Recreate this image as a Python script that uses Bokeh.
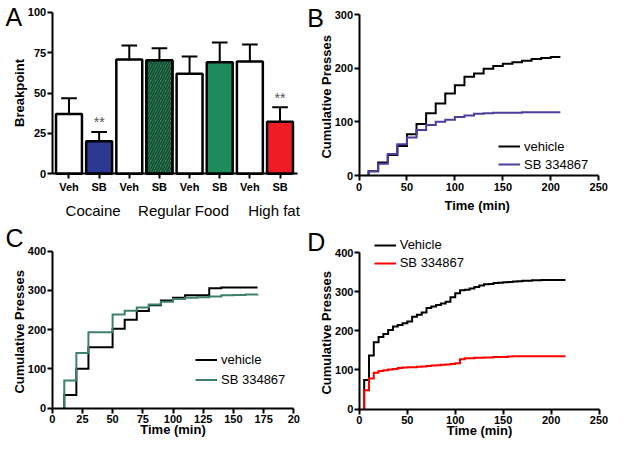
from bokeh.plotting import figure
from bokeh.layouts import gridplot
from bokeh.models import Label, Legend, LegendItem, FixedTicker, Range1d, ColumnDataSource
from bokeh.core.properties import value
from bokeh.embed import file_html
from bokeh.resources import INLINE

FONT = "Liberation Sans"

# ---------------- data ----------------
# Panel A: breakpoint (mean, SEM)
a_conditions = ["Veh", "SB", "Veh", "SB", "Veh", "SB", "Veh", "SB"]
a_breakpoint = [37.0, 20.2, 70.7, 70.3, 61.9, 69.1, 69.5, 32.2]
a_sem = [9.8, 5.6, 8.7, 7.4, 10.7, 12.1, 10.5, 9.0]
a_signif = ["", "**", "", "", "", "", "", "**"]
a_groups = ["Cocaine", "Regular Food", "High fat"]
a_group_members = [[0, 1], [2, 3, 4, 5], [6, 7]]

# Panel B: cumulative presses (cocaine)
b_time = [10, 20, 30, 40, 50, 60, 70, 80, 90, 100, 110, 120, 130, 140, 150,
          160, 170, 180, 190, 200, 210]
b_vehicle = [8, 24, 38, 55, 77, 96, 116, 134, 153, 168, 184, 190, 199, 204,
             208, 211, 214, 217, 219, 221, 221]
b_sb = [8, 22, 40, 58, 71, 85, 94, 100, 104, 109, 112, 115, 116, 117, 117,
        117, 118, 118, 118, 118, 118]

# Panel C: cumulative presses (regular food)
c_time = [10, 20, 30, 40, 50, 60, 70, 80, 90, 100, 110, 120, 130, 140, 150,
          160, 170]
c_vehicle = [33, 100, 155, 155, 202, 225, 247, 262, 274, 281, 287, 287, 305,
             307, 307, 307, 307]
c_sb = [70, 140, 193, 193, 238, 248, 256, 264, 271, 278, 281, 282, 284, 287,
        288, 289, 290]

# Panel D: cumulative presses (high fat)
d_time = [5, 10, 15, 20, 25, 30, 35, 40, 45, 50, 55, 60, 65, 70, 75, 80, 85,
          90, 95, 100, 105, 110, 115, 120, 125, 130, 135, 140, 145, 150, 155,
          160, 165, 170, 175, 180, 185, 190, 195, 200, 205, 210, 215]
d_vehicle = [74, 137, 171, 184, 192, 202, 211, 215, 219, 224, 236, 241, 247,
             258, 262, 266, 270, 274, 286, 296, 304, 305, 308, 312, 316, 319,
             320, 322, 323, 324, 325, 326, 327, 328, 328, 329, 329, 330, 330,
             330, 330, 330, 330]
d_sb = [48, 78, 93, 97, 99, 101, 102, 105, 106, 107, 107, 108, 109, 110, 111,
        112, 113, 114, 115, 117, 127, 130, 130, 131, 131, 132, 132, 133, 133,
        133, 134, 135, 135, 135, 135, 135, 135, 135, 135, 135, 135, 135, 135]


# ---------------- helpers ----------------
def make_fig(box, xd, xp, yd, yp):
    """box = (left, top, right, bottom) in layout px; xd/yd are the data extents
    of the axes and xp/yp their layout positions. The frame fills the whole
    figure and the axes sit at fixed data locations inside it."""
    left, top, right, bottom = box
    sx = (xd[1] - xd[0]) / (xp[1] - xp[0])
    x0 = xd[0] - (xp[0] - left) * sx
    x1 = xd[1] + (right - xp[1]) * sx
    sy = (yd[1] - yd[0]) / (yp[0] - yp[1])
    y0 = yd[0] - (bottom - yp[0]) * sy
    y1 = yd[1] + (yp[1] - top) * sy
    p = figure(width=right - left, height=bottom - top,
               x_range=Range1d(x0, x1), y_range=Range1d(y0, y1),
               min_border=0, min_border_left=0, min_border_right=0,
               min_border_top=0, min_border_bottom=0,
               output_backend="svg", toolbar_location=None)
    p.grid.visible = False
    p.outline_line_color = None
    for ax in list(p.xaxis) + list(p.yaxis):
        ax.axis_line_width = 2
        ax.axis_line_color = "black"
        ax.major_tick_line_width = 2
        ax.major_tick_out = 5
        ax.major_tick_in = 0
        ax.minor_tick_line_color = None
        ax.major_label_text_font = FONT
        ax.major_label_text_font_style = "bold"
        ax.major_label_text_font_size = "11px"
        ax.major_label_text_color = "black"
        ax.major_label_standoff = 1
        ax.axis_label_text_font = FONT
        ax.axis_label_text_font_style = "bold"
        ax.axis_label_text_font_size = "13px"
        ax.axis_label_text_color = "black"
    p.xaxis.major_label_standoff = 2
    p.xaxis.fixed_location = yd[0]
    p.yaxis.fixed_location = xd[0]
    p.xaxis.bounds = xd
    p.yaxis.bounds = yd
    p.yaxis.axis_label_standoff = -2
    return p


def letter(p, txt, x, y):
    p.add_layout(Label(x=x, y=y, x_units="screen", y_units="screen",
                       text=txt, text_font=FONT, text_font_size="25px",
                       text_color="black", text_baseline="middle",
                       text_align="left"))


def stairs(p, t, v, color):
    xs = [t[0]] + list(t)
    ys = [0] + list(v)
    return p.step(xs, ys, mode="after", line_color=color, line_width=2,
                  line_join="miter")


def make_legend(p, items, vx, vy, lh, sp):
    leg = Legend(items=items, location=(vx, vy), label_text_font=FONT,
                 label_text_font_size="13px", label_text_color="black",
                 glyph_width=22, glyph_height=lh,
                 label_height=lh, spacing=sp, padding=0, margin=0,
                 border_line_color=None, background_fill_alpha=0,
                 label_standoff=4)
    p.add_layout(leg)


# ---------------- Panel A ----------------
xs = [i + 1 for i in range(len(a_conditions))]
pa = make_fig((0, 0, 306, 220), (0.443, 8.57), (51.7, 296.7), (0, 100), (173.3, 11.7))
fills = ["white", "#2b3990", "white", "#3a8a60", "white", "#1e8c5a", "white", "#ee1c25"]
src = ColumnDataSource(dict(x=xs, top=a_breakpoint, fill=fills))
pa.vbar(x="x", top="top", width=0.86, fill_color="fill", line_color="black",
        line_width=2.5, source=src)
pa.vbar(x=[xs[3]], top=[a_breakpoint[3]], width=0.86, fill_color="#3a8a60",
        hatch_pattern="/", hatch_color="#114a2d", hatch_scale=5, hatch_weight=1.6,
        line_color="black", line_width=2.5)
upper = [m + s for m, s in zip(a_breakpoint, a_sem)]
pa.segment(x0=xs, y0=a_breakpoint, x1=xs, y1=upper, line_color="black", line_width=2)
pa.segment(x0=[x - 0.26 for x in xs], y0=upper, x1=[x + 0.26 for x in xs], y1=upper,
           line_color="black", line_width=2)
sx = [x for x, s in zip(xs, a_signif) if s]
sy = [u + 6 for u, s in zip(upper, a_signif) if s]
st = [s for s in a_signif if s]
pa.text(x=sx, y=sy, text=st, text_font=value(FONT), text_font_size="14px",
        text_color="#555555", text_align="center", text_baseline="middle")
pa.xaxis.ticker = FixedTicker(ticks=xs)
pa.xaxis.major_label_overrides = {x: c for x, c in zip(xs, a_conditions)}
pa.yaxis.ticker = FixedTicker(ticks=[0, 25, 50, 75, 100])
pa.yaxis.axis_label = "Breakpoint"
for g, mem in zip(a_groups, a_group_members):
    gx = sum(xs[i] for i in mem) / len(mem) + 0.3
    pa.add_layout(Label(x=gx, y=10, y_units="screen", text=g, text_font=FONT,
                        text_font_size="15px", text_color="black",
                        text_align="center", text_baseline="middle"))
letter(pa, "A", 5, 204)

# ---------------- Panel B ----------------
pb = make_fig((306, 0, 608, 220), (0, 250), (358.5, 598.2), (0, 300), (175, 14))
rb1 = stairs(pb, b_time, b_vehicle, "black")
rb2 = stairs(pb, b_time, b_sb, "#4b3f9e")
pb.xaxis.ticker = FixedTicker(ticks=[0, 50, 100, 150, 200, 250])
pb.yaxis.ticker = FixedTicker(ticks=[0, 100, 200, 300])
pb.xaxis.axis_label = "Time  (min)"
pb.yaxis.axis_label = "Cumulative  Presses"
pb.xaxis.axis_label_standoff = 4
make_legend(pb, [LegendItem(label="vehicle", renderers=[rb1]),
                 LegendItem(label="SB 334867", renderers=[rb2])], 192, 48, 16, 2)
letter(pb, "B", 0.7, 202.5)

# ---------------- Panel C ----------------
pc = make_fig((0, 220, 306, 438), (0, 200), (51.7, 293.3), (0, 400), (407.5, 250.5))
rc1 = stairs(pc, c_time, c_vehicle, "black")
rc2 = stairs(pc, c_time, c_sb, "#3f8068")
pc.xaxis.ticker = FixedTicker(ticks=[0, 25, 50, 75, 100, 125, 150, 175, 200])
pc.xaxis.major_label_overrides = {200: "20"}
pc.yaxis.ticker = FixedTicker(ticks=[0, 100, 200, 300, 400])
pc.xaxis.axis_label = "Time (min)"
pc.yaxis.axis_label = "Cumulative  Presses"
pc.xaxis.axis_label_standoff = -5
make_legend(pc, [LegendItem(label="vehicle", renderers=[rc1]),
                 LegendItem(label="SB 334867", renderers=[rc2])], 195, 50, 17, 3)
letter(pc, "C", 5, 200.5)

# ---------------- Panel D ----------------
pd_ = make_fig((306, 220, 608, 438), (0, 250), (358.9, 598.5), (0, 400), (408.5, 252.1))
rd1 = stairs(pd_, d_time, d_vehicle, "black")
rd2 = stairs(pd_, d_time, d_sb, "#ff0000")
pd_.xaxis.ticker = FixedTicker(ticks=[0, 50, 100, 150, 200, 250])
pd_.yaxis.ticker = FixedTicker(ticks=[0, 100, 200, 300, 400])
pd_.xaxis.axis_label = "Time (min)"
pd_.yaxis.axis_label = "Cumulative  Presses"
pd_.xaxis.axis_label_standoff = -5
make_legend(pd_, [LegendItem(label="Vehicle", renderers=[rd1]),
                  LegendItem(label="SB 334867", renderers=[rd2])], 67.7, 167.5, 16, 2)
letter(pd_, "D", 0.7, 196.6)

grid = gridplot([[pa, pb], [pc, pd_]], toolbar_location=None)

open("out.html", "w").write(file_html(grid, INLINE))
